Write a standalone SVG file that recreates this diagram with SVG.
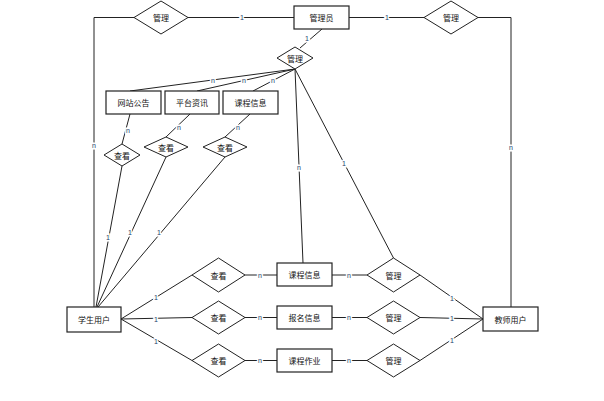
<svg xmlns="http://www.w3.org/2000/svg" width="604" height="401" viewBox="0 0 604 401">
<style>
.bg{fill:#fff}
.box{fill:#fff;stroke:#222;stroke-width:1.2}
.dia{fill:#fff;stroke:#222;stroke-width:1}
.ln{fill:none;stroke:#222;stroke-width:1}
.t{font-family:"Noto Sans CJK SC","Noto Sans",sans-serif;font-size:8px;fill:#111;text-anchor:middle;dominant-baseline:central}
.lb{font-family:"Liberation Sans","Noto Sans",sans-serif;font-size:7px;fill:#1a3a6a;text-anchor:middle;dominant-baseline:central;paint-order:stroke;stroke:#fff;stroke-width:3px}
</style>
<rect class="bg" x="0" y="0" width="604" height="401"/>
<g id="connectors">
<polyline class="ln" points="134,17.5 94,17.5 94,307"/>
<line class="ln" x1="188" y1="17.5" x2="294" y2="17.5"/>
<line class="ln" x1="349" y1="17.5" x2="424" y2="17.5"/>
<polyline class="ln" points="478,17.5 511,17.5 511,307"/>
<line class="ln" x1="322" y1="29" x2="300" y2="48"/>
<line class="ln" x1="295" y1="69" x2="130" y2="91"/>
<line class="ln" x1="295" y1="69" x2="197" y2="91"/>
<line class="ln" x1="295" y1="69" x2="253" y2="91"/>
<line class="ln" x1="295" y1="69" x2="303" y2="263"/>
<line class="ln" x1="295" y1="69" x2="393.5" y2="258"/>
<line class="ln" x1="130" y1="114" x2="122" y2="144"/>
<line class="ln" x1="190" y1="114" x2="166" y2="137"/>
<line class="ln" x1="250" y1="114" x2="225" y2="137"/>
<line class="ln" x1="122" y1="166" x2="96" y2="307"/>
<line class="ln" x1="166" y1="157" x2="97" y2="307"/>
<line class="ln" x1="225" y1="157" x2="98" y2="307"/>
<line class="ln" x1="121" y1="319" x2="192" y2="275"/>
<line class="ln" x1="121" y1="319" x2="192" y2="317.5"/>
<line class="ln" x1="121" y1="319" x2="192" y2="360.5"/>
<line class="ln" x1="245" y1="275" x2="277" y2="275"/>
<line class="ln" x1="245" y1="317.5" x2="277" y2="317.5"/>
<line class="ln" x1="245" y1="360.5" x2="277" y2="360.5"/>
<line class="ln" x1="332" y1="275" x2="367" y2="275"/>
<line class="ln" x1="332" y1="317.5" x2="367" y2="317.5"/>
<line class="ln" x1="332" y1="360.5" x2="367" y2="360.5"/>
<line class="ln" x1="420" y1="275" x2="483" y2="319"/>
<line class="ln" x1="420" y1="317.5" x2="483" y2="319"/>
<line class="ln" x1="420" y1="360.5" x2="483" y2="319"/>
<text class="lb" x="94" y="145">n</text>
<text class="lb" x="242" y="17.5">1</text>
<text class="lb" x="387" y="17.5">1</text>
<text class="lb" x="511" y="147">n</text>
<text class="lb" x="307" y="38">1</text>
<text class="lb" x="213" y="80">n</text>
<text class="lb" x="244" y="80">n</text>
<text class="lb" x="273" y="80">n</text>
<text class="lb" x="299" y="167">n</text>
<text class="lb" x="344" y="163">1</text>
<text class="lb" x="128" y="130">n</text>
<text class="lb" x="179" y="127">n</text>
<text class="lb" x="238" y="127">n</text>
<text class="lb" x="108" y="237">1</text>
<text class="lb" x="130" y="232">1</text>
<text class="lb" x="159" y="232">1</text>
<text class="lb" x="156" y="297">1</text>
<text class="lb" x="156" y="319">1</text>
<text class="lb" x="156" y="341">1</text>
<text class="lb" x="260" y="275">n</text>
<text class="lb" x="260" y="317.5">n</text>
<text class="lb" x="260" y="360.5">n</text>
<text class="lb" x="349" y="275">n</text>
<text class="lb" x="349" y="317.5">n</text>
<text class="lb" x="349" y="360.5">n</text>
<text class="lb" x="452" y="298">1</text>
<text class="lb" x="452" y="318">1</text>
<text class="lb" x="452" y="340">1</text>
</g>
<g id="admin"><rect class="box" x="294" y="6" width="55" height="23"/><text class="t" x="321.5" y="17.5">管理员</text></g>
<g id="rel-admin-student"><polygon class="dia" points="161,1 188,17.5 161,34 134,17.5"/><text class="t" x="161" y="17.5">管理</text></g>
<g id="rel-admin-teacher"><polygon class="dia" points="451,1 478,17.5 451,34 424,17.5"/><text class="t" x="451" y="17.5">管理</text></g>
<g id="rel-admin-manage"><polygon class="dia" points="295,47 313,58 295,69 277,58"/><text class="t" x="295" y="58">管理</text></g>
<g id="notice"><rect class="box" x="106" y="91" width="55" height="23"/><text class="t" x="133.5" y="102.5">网站公告</text></g>
<g id="news"><rect class="box" x="165" y="91" width="54" height="23"/><text class="t" x="192" y="102.5">平台资讯</text></g>
<g id="course-top"><rect class="box" x="223" y="91" width="55" height="23"/><text class="t" x="250.5" y="102.5">课程信息</text></g>
<g id="view-notice"><polygon class="dia" points="122,144 140,155 122,166 104,155"/><text class="t" x="122" y="155">查看</text></g>
<g id="view-news"><polygon class="dia" points="166,137 188,147 166,157 144,147"/><text class="t" x="166" y="147">查看</text></g>
<g id="view-course-top"><polygon class="dia" points="225,137 247,147 225,157 203,147"/><text class="t" x="225" y="147">查看</text></g>
<g id="student"><rect class="box" x="67" y="307" width="54" height="25"/><text class="t" x="94" y="319.5">学生用户</text></g>
<g id="teacher"><rect class="box" x="483" y="307" width="55" height="24"/><text class="t" x="510.5" y="319">教师用户</text></g>
<g id="view-course"><polygon class="dia" points="218.5,258 245,275 218.5,292 192,275"/><text class="t" x="218.5" y="275">查看</text></g>
<g id="view-signup"><polygon class="dia" points="218.5,301 245,317.5 218.5,334 192,317.5"/><text class="t" x="218.5" y="317.5">查看</text></g>
<g id="view-homework"><polygon class="dia" points="218.5,344 245,360.5 218.5,377 192,360.5"/><text class="t" x="218.5" y="360.5">查看</text></g>
<g id="course"><rect class="box" x="277" y="263" width="55" height="23"/><text class="t" x="304.5" y="274.5">课程信息</text></g>
<g id="signup"><rect class="box" x="277" y="306" width="55" height="23"/><text class="t" x="304.5" y="317.5">报名信息</text></g>
<g id="homework"><rect class="box" x="277" y="349" width="55" height="23"/><text class="t" x="304.5" y="360.5">课程作业</text></g>
<g id="manage-course"><polygon class="dia" points="393.5,258 420,275 393.5,292 367,275"/><text class="t" x="393.5" y="275">管理</text></g>
<g id="manage-signup"><polygon class="dia" points="393.5,301 420,317.5 393.5,334 367,317.5"/><text class="t" x="393.5" y="317.5">管理</text></g>
<g id="manage-homework"><polygon class="dia" points="393.5,344 420,360.5 393.5,377 367,360.5"/><text class="t" x="393.5" y="360.5">管理</text></g>
</svg>
